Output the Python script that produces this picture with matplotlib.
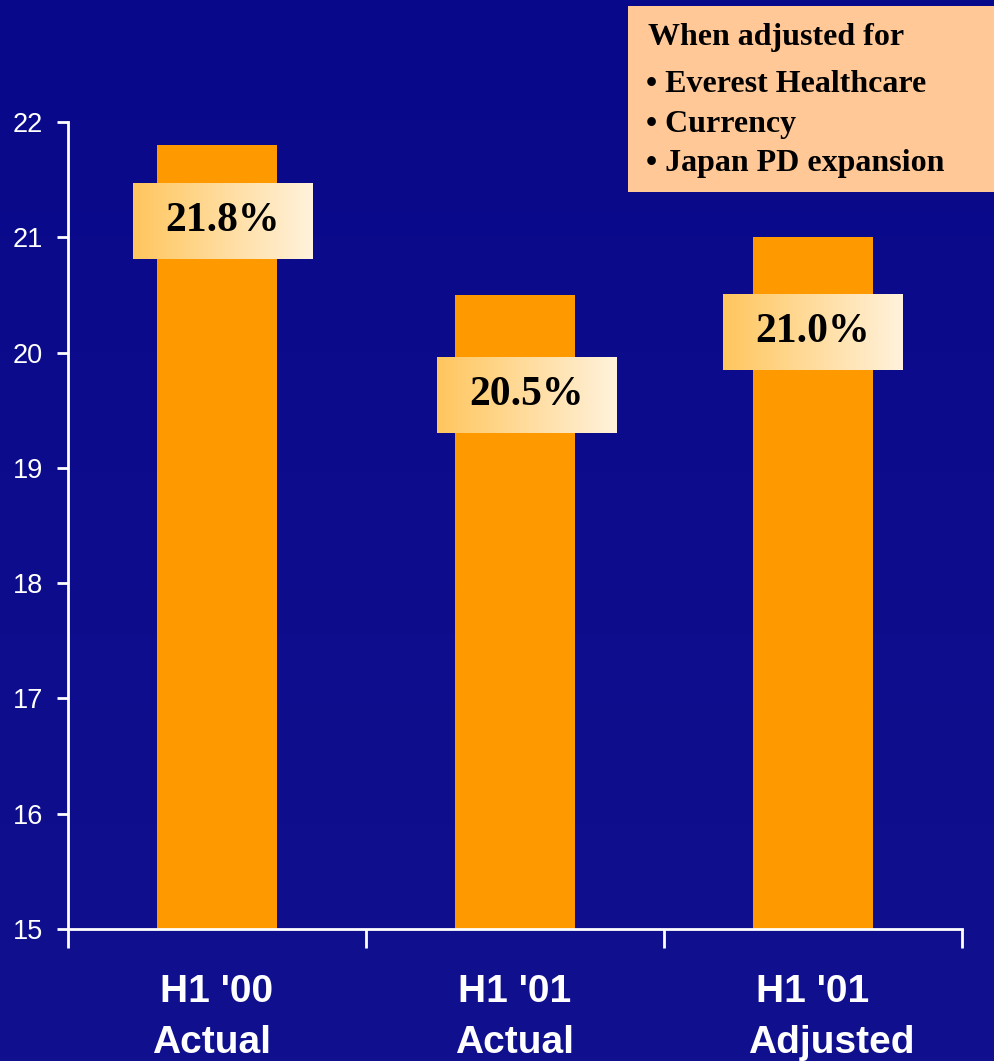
import numpy as np
import matplotlib
matplotlib.use("Agg")
from matplotlib import pyplot as plt
from matplotlib.colors import LinearSegmentedColormap

# data
categories = ["H1 '00", "H1 '01", "H1 '01"]
subtitles = ["Actual", "Actual", "Adjusted"]
values = [21.8, 20.5, 21.0]
value_labels = ["21.8%", "20.5%", "21.0%"]
yticks = [15, 16, 17, 18, 19, 20, 21, 22]
note_title = "When adjusted for"
note_items = ["Everest Healthcare", "Currency", "Japan PD expansion"]

# label box placement (data units, relative to bar top / bar centre)
label_drop = [0.66, 0.87, 0.82]
label_shift = [0.02, 0.04, 0.0]
sub_shift = [-0.02, 0.0, 0.06]

W, H = 994, 1061
fig = plt.figure(figsize=(W / 100, H / 100), dpi=100)

# background gradient
bg = fig.add_axes([0, 0, 1, 1], zorder=-10)
bg_cmap = LinearSegmentedColormap.from_list("bg", ["#08088A", "#11118F"])
bg.imshow(np.linspace(0, 1, 256).reshape(-1, 1), aspect="auto", cmap=bg_cmap,
          extent=[0, 1, 0, 1], origin="upper")
bg.axis("off")

ax = fig.add_axes([68 / W, 132 / H, 894 / W, 807 / H])
ax.set_facecolor("none")
x = np.arange(len(values))
ax.bar(x, values, width=0.4, bottom=0, color="#FF9900", zorder=2)
ax.set_xlim(-0.5, 2.5)
ax.set_ylim(15, 22)

for s in ["top", "right"]:
    ax.spines[s].set_visible(False)
for s in ["left", "bottom"]:
    ax.spines[s].set_color("white")
    ax.spines[s].set_linewidth(2)

ax.set_yticks(yticks)
ax.set_yticklabels([str(t) for t in yticks], color="white", fontsize=19.5,
                   family="Liberation Sans")
ax.tick_params(axis="y", colors="white", length=8, width=2, pad=10)
ax.set_xticks([-0.5, 0.5, 1.5, 2.5])
ax.set_xticklabels([])
ax.tick_params(axis="x", colors="white", length=14, width=2, direction="out")

for i, (c, s) in enumerate(zip(categories, subtitles)):
    ax.text(x[i], -0.078, c, transform=ax.get_xaxis_transform(), ha="center",
            va="center", color="white", fontsize=28, fontweight="bold",
            family="Liberation Sans")
    ax.text(x[i] + sub_shift[i], -0.141, s,
            transform=ax.get_xaxis_transform(), ha="center", va="center",
            color="white", fontsize=28, fontweight="bold",
            family="Liberation Sans")

# gradient value boxes
box_cmap = LinearSegmentedColormap.from_list("box", ["#FFC65E", "#FFF2DC"])
grad = np.linspace(0, 1, 256).reshape(1, -1)
bw, bh = 0.604, 0.659
for i, v in enumerate(values):
    cx = x[i] + label_shift[i]
    cy = v - label_drop[i]
    ax.imshow(grad, cmap=box_cmap, aspect="auto", zorder=3,
              extent=[cx - bw / 2, cx + bw / 2, cy - bh / 2, cy + bh / 2])
    ax.text(cx, cy, value_labels[i], ha="center", va="center", zorder=4,
            fontsize=30, fontweight="bold", family="Liberation Serif",
            color="black")
ax.set_xlim(-0.5, 2.5)
ax.set_ylim(15, 22)

# note box
note = fig.add_axes([628 / W, 1 - 192 / H, 366 / W, 186 / H])
note.set_facecolor("#FFC896")
note.set_xticks([])
note.set_yticks([])
for s in note.spines.values():
    s.set_visible(False)
note.text(20 / 366, 1 - 32 / 186, note_title, transform=note.transAxes,
          va="center", ha="left", fontsize=23, fontweight="bold",
          family="Liberation Serif")
for j, item in enumerate(note_items):
    note.text(18 / 366, 1 - (79 + 39 * j) / 186, "\u2022 " + item,
              transform=note.transAxes, va="center", ha="left", fontsize=23,
              fontweight="bold", family="Liberation Serif")

fig.savefig("out.png", dpi=100)
